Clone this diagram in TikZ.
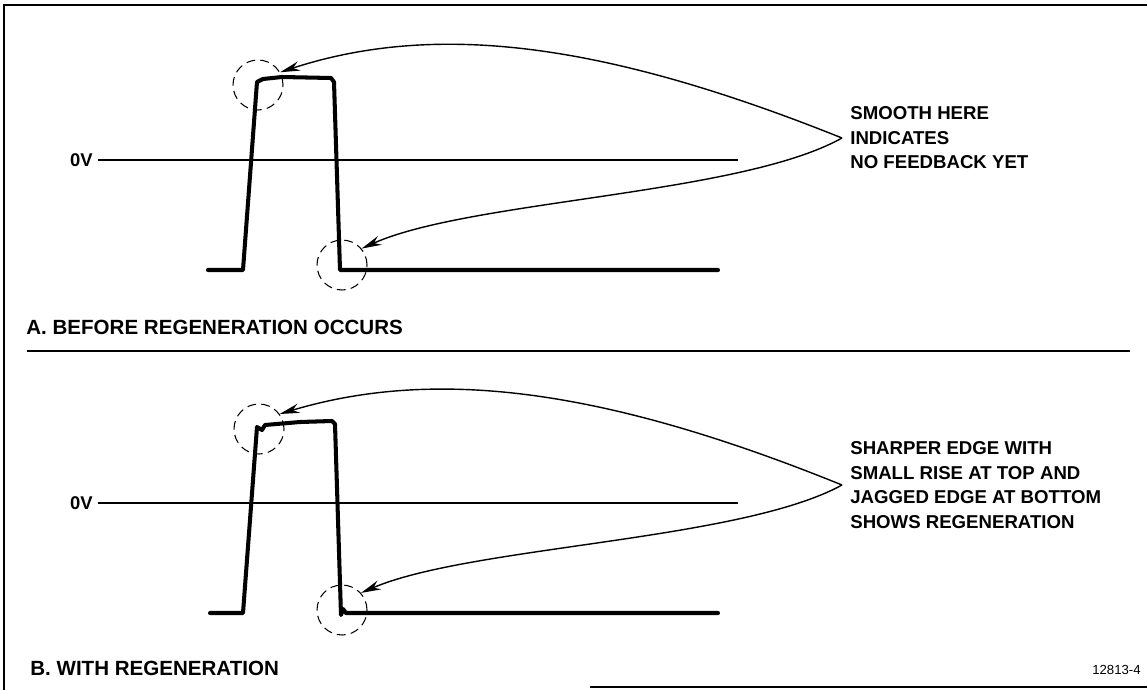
\documentclass[tikz,border=0pt]{standalone}
\usepackage{fontspec}
\setmainfont{Liberation Sans}
\usetikzlibrary{arrows.meta}

\begin{document}
\begin{tikzpicture}[x=0.02cm,y=-0.02cm,
    trace/.style={line width=2.3pt,line join=round,line cap=round},
    zeroline/.style={line width=0.8pt},
    rule/.style={line width=0.9pt},
    circ/.style={circle,draw,line width=0.6pt,dash pattern=on 5pt off 3pt,minimum size=1.0cm,inner sep=0pt},
    pointer/.style={line width=0.8pt,-{Stealth[length=0.4cm,width=0.19cm]}},
    note/.style={anchor=west,align=left,font=\fontsize{10.6}{13.9}\selectfont\bfseries,inner sep=0.16cm},
    caption/.style={anchor=west,font=\fontsize{11.7}{13}\selectfont\bfseries,inner sep=0pt}]
  \useasboundingbox (0,0) rectangle (1147,690);

  % frame
  \draw[rule] (4,690) -- (4,5) -- (1147,5);
  \draw[rule] (590,687) -- (1147,687);
  \draw[rule] (27,351) -- (1130,351);

  % A. before regeneration
  \node[anchor=east,inner sep=0.1cm,font=\fontsize{10.5}{12}\selectfont\bfseries] (zeroA) at (98,160) {0V};
  \coordinate (zeroAend) at (738,160);
  \draw[zeroline] (zeroA.east) -- (zeroAend);
  \draw[trace] (208,270) -- (243,270) -- (257,82) -- (263,79) -- (282,77) -- (331,78) -- (334,82)
    -- (340,270) -- (718,270);
  \node[circ] (topA) at (258,85) {};
  \node[circ] (botA) at (342,265) {};
  \node[note] (noteA) at (842,138) {SMOOTH HERE\\INDICATES\\NO FEEDBACK YET};
  \draw[pointer] (noteA.west) .. controls (610,45) and (440,20) .. (topA.30);
  \draw[pointer] (noteA.west) .. controls (740,195) and (470,200) .. (botA.40);
  \node[caption] (capA) at (26,327) {A. BEFORE REGENERATION OCCURS};

  % B. with regeneration
  \node[anchor=east,inner sep=0.1cm,font=\fontsize{10.5}{12}\selectfont\bfseries] (zeroB) at (98,503) {0V};
  \coordinate (zeroBend) at (738,503);
  \draw[zeroline] (zeroB.east) -- (zeroBend);
  \draw[trace] (210,613) -- (243,613) -- (257,427) -- (262,430) -- (265,425) -- (300,422) -- (332,421)
    -- (335,424) -- (341,615) -- (343,609) -- (346,613) -- (718,613);
  \node[circ] (topB) at (259,429) {};
  \node[circ] (botB) at (342,610) {};
  \node[note] (noteB) at (842,485) {SHARPER EDGE WITH\\SMALL RISE AT TOP AND\\JAGGED EDGE AT BOTTOM\\SHOWS REGENERATION};
  \draw[pointer] (noteB.west) .. controls (610,391) and (440,366) .. (topB.36);
  \draw[pointer] (noteB.west) .. controls (740,541) and (470,546) .. (botB.42);
  \node[caption] (capB) at (30,668) {B. WITH REGENERATION};

  \node[anchor=east,inner sep=0pt,font=\fontsize{7.5}{9}\selectfont] (fig) at (1141,670) {12813-4};
\end{tikzpicture}
\end{document}
